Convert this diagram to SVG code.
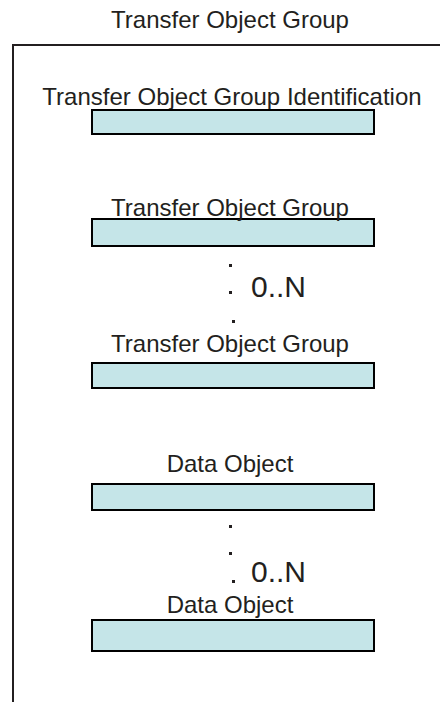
<svg xmlns="http://www.w3.org/2000/svg" width="440" height="702" viewBox="0 0 440 702">
<style>
text{font-family:"Liberation Sans",Arial,sans-serif;fill:#231F20;text-anchor:middle}
.lbl{font-size:24px}
.mult{font-size:30px;text-anchor:start}
.box{fill:#C5E5E8;stroke:#000;stroke-width:2}
.frame{fill:none;stroke:#231F20;stroke-width:2}
.dot{fill:#231F20}
</style>
<rect width="440" height="702" fill="#fff"/>
<g id="frame">
<text class="lbl" x="230" y="28">Transfer Object Group</text>
<path class="frame" d="M13,702 V45 H441"/>
</g>
<g id="tog-identification">
<text class="lbl" x="232" y="105">Transfer Object Group Identification</text>
<rect class="box" x="92" y="110" width="282" height="24"/>
</g>
<g id="tog-first">
<rect class="box" x="92" y="219" width="282" height="27"/>
<text class="lbl" x="230" y="216">Transfer Object Group</text>
</g>
<g id="tog-last">
<text class="lbl" x="230" y="352">Transfer Object Group</text>
<rect class="box" x="92" y="363" width="282" height="25"/>
</g>
<g id="data-object-first">
<text class="lbl" x="230" y="472">Data Object</text>
<rect class="box" x="92" y="484" width="282" height="26"/>
</g>
<g id="data-object-last">
<rect class="box" x="92" y="620" width="282" height="31"/>
<text class="lbl" x="230" y="613">Data Object</text>
</g>
<g id="connectors">
<rect class="dot" x="229" y="264" width="3" height="3"/>
<rect class="dot" x="229" y="291" width="3" height="3"/>
<rect class="dot" x="232" y="320" width="3" height="3"/>
<text class="mult" x="251" y="297">0..N</text>
<rect class="dot" x="229" y="525" width="3" height="3"/>
<rect class="dot" x="229" y="552" width="3" height="3"/>
<rect class="dot" x="232" y="580" width="3" height="3"/>
<text class="mult" x="251" y="582">0..N</text>
</g>
</svg>
